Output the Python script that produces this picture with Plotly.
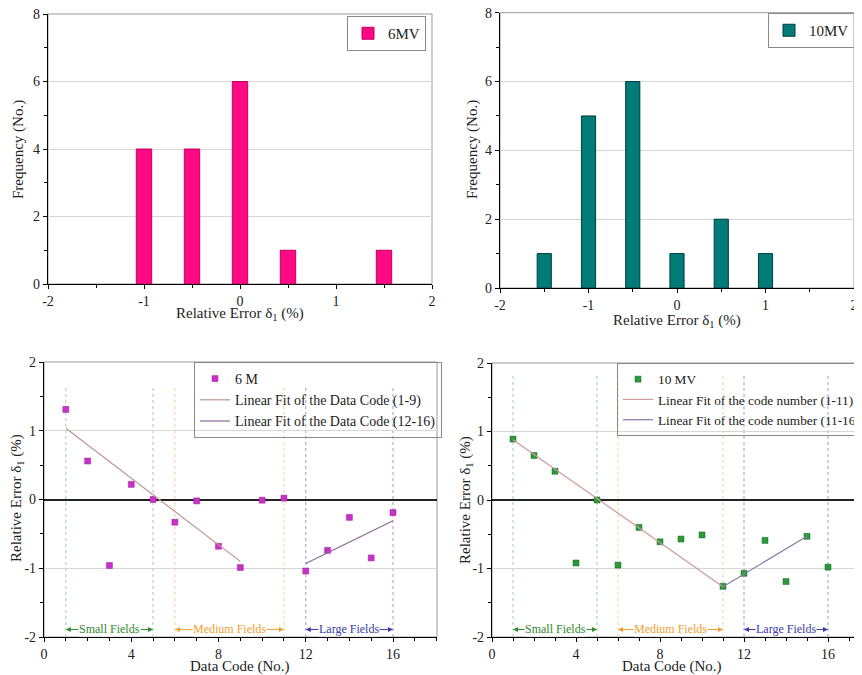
import plotly.graph_objects as go

# ---------------- data ----------------
hist_x_6mv = [-1.0, -0.5, 0.0, 0.5, 1.5]
hist_y_6mv = [4, 4, 6, 1, 1]
hist_x_10mv = [-1.5, -1.0, -0.5, 0.0, 0.5, 1.0]
hist_y_10mv = [1, 5, 6, 1, 2, 1]

code = list(range(1, 17))
err_6m = [1.31, 0.56, -0.96, 0.22, 0.0, -0.33, -0.02, -0.68, -0.99,
          -0.01, 0.02, -1.04, -0.74, -0.26, -0.85, -0.19]
err_10mv = [0.89, 0.65, 0.42, -0.92, 0.0, -0.95, -0.40, -0.61, -0.57,
            -0.51, -1.26, -1.07, -0.59, -1.19, -0.53, -0.98]

fit6_a_x, fit6_a_y = [1, 9], [1.035, -0.90]
fit6_b_x, fit6_b_y = [12, 16], [-0.93, -0.31]
fit10_a_x, fit10_a_y = [1, 11], [0.88, -1.265]
fit10_b_x, fit10_b_y = [11, 15], [-1.265, -0.53]

hist_xticks = [-2, -1, 0, 1, 2]
hist_xlabels = ["-2", "-1", "0", "1", "2"]
hist_yticks = [0, 2, 4, 6, 8]
code_xticks = [0, 4, 8, 12, 16]
err_yticks = [-2, -1, 0, 1, 2]
err_ylabels = ["-2", "-1", "0", "1", "2"]

field_names = ["Small Fields", "Medium Fields", "Large Fields"]
field_start = [1, 6, 12]
field_end = [5, 11, 16]
field_colors = ["#2e8b2e", "#f0a030", "#3a3aa8"]
field_line_colors = ["#a8c8a8", "#f3cf98", "#9c9cd6"]

FONT = "Liberation Serif"
# the page body has an 8px margin, so the figure is drawn 8px in from the corner
OFF = 8
W, H = 862 - OFF, 675 - OFF


def fx(px):
    return (px - OFF) / W


def fy(py):
    return 1 - (py - OFF) / H


fig = go.Figure()

# ---------------- histograms ----------------
fig.add_trace(go.Bar(x=hist_x_6mv, y=hist_y_6mv, width=0.16, name="6MV", showlegend=True,
                     marker=dict(color="#ff0a84", line=dict(color="#c0005a", width=1)),
                     xaxis="x", yaxis="y", legend="legend"))
fig.add_trace(go.Bar(x=hist_x_10mv, y=hist_y_10mv, width=0.16, name="10MV", showlegend=True,
                     marker=dict(color="#007b78", line=dict(color="#003c3a", width=1)),
                     xaxis="x2", yaxis="y2", legend="legend2"))

# ---------------- scatter + fits ----------------
fig.add_trace(go.Scatter(x=code, y=err_6m, mode="markers", name="6 M", showlegend=True,
                         marker=dict(symbol="square", size=6, color="#c832c8",
                                     line=dict(color="#9a209a", width=0.5)),
                         xaxis="x3", yaxis="y3", legend="legend3"))
fig.add_trace(go.Scatter(x=fit6_a_x, y=fit6_a_y, mode="lines", showlegend=True,
                         name="Linear Fit of the Data Code (1-9)",
                         line=dict(color="#c09494", width=1.2),
                         xaxis="x3", yaxis="y3", legend="legend3"))
fig.add_trace(go.Scatter(x=fit6_b_x, y=fit6_b_y, mode="lines", showlegend=True,
                         name="Linear Fit of the Data Code (12-16)",
                         line=dict(color="#8a6a98", width=1.2),
                         xaxis="x3", yaxis="y3", legend="legend3"))

fig.add_trace(go.Scatter(x=code, y=err_10mv, mode="markers", name="10 MV", showlegend=True,
                         marker=dict(symbol="square", size=6, color="#2a9a3a",
                                     line=dict(color="#1a6a2a", width=0.5)),
                         xaxis="x4", yaxis="y4", legend="legend4"))
fig.add_trace(go.Scatter(x=fit10_a_x, y=fit10_a_y, mode="lines", showlegend=True,
                         name="Linear Fit of the code number (1-11)",
                         line=dict(color="#d09898", width=1.2),
                         xaxis="x4", yaxis="y4", legend="legend4"))
fig.add_trace(go.Scatter(x=fit10_b_x, y=fit10_b_y, mode="lines", showlegend=True,
                         name="Linear Fit of the code number (11-16)",
                         line=dict(color="#8a78a8", width=1.2),
                         xaxis="x4", yaxis="y4", legend="legend4"))

tickfont = dict(family=FONT, size=14, color="#222")
titlefont = dict(family=FONT, size=15, color="#222")


def xaxis(domain, rng, tv, tt, minor, anchor):
    return dict(domain=domain, range=rng, tickmode="array", tickvals=tv, ticktext=tt,
                anchor=anchor, ticklabeloverflow="allow",
                showline=True, linecolor="black", linewidth=1.3,
                ticks="outside", ticklen=4, tickcolor="black",
                minor=dict(ticks="outside", tickmode="linear", tick0=0, dtick=minor,
                           ticklen=3, tickcolor="black"),
                showgrid=False, zeroline=False, tickfont=tickfont,
                automargin=False, fixedrange=True)


def yaxis(domain, rng, tv, tt, minor, anchor, zero=False):
    return dict(domain=domain, range=rng, tickmode="array", tickvals=tv, ticktext=tt,
                anchor=anchor, ticklabeloverflow="allow",
                showline=True, linecolor="black", linewidth=1.3,
                ticks="outside", ticklen=4, tickcolor="black",
                minor=dict(ticks="outside", tickmode="linear", tick0=0, dtick=minor,
                           ticklen=3, tickcolor="black", showgrid=False),
                showgrid=True, gridcolor="#d6d6d6", gridwidth=1,
                zeroline=zero, zerolinecolor="#222", zerolinewidth=1.5,
                tickfont=tickfont, automargin=False, fixedrange=True)


dom = {
    "x": [fx(48), fx(432)], "y": [fy(284), fy(14)],
    "x2": [fx(500), fx(854)], "y2": [fy(288), fy(12.7)],
    "x3": [fx(44), fx(437)], "y3": [fy(637), fy(362)],
    "x4": [fx(492), 1.0], "y4": [fy(637), fy(363)],
}
x4_max = (862 - 492) / ((828 - 492) / 16)
x3_max = (437 - 44) / ((393 - 44) / 16)

legend_common = dict(bgcolor="rgba(0,0,0,0)", bordercolor="#8a8a8a", borderwidth=1,
                     xanchor="left", yanchor="top", xref="paper", yref="paper",
                     tracegroupgap=0, itemclick=False, itemdoubleclick=False,
                     itemwidth=30)

hist_ylabels = [str(v) for v in hist_yticks]
code_xlabels = [str(v) for v in code_xticks]

fig.update_layout(
    width=W, height=H, showlegend=True,
    margin=dict(l=0, r=0, t=0, b=0, autoexpand=False),
    paper_bgcolor="white", plot_bgcolor="white",
    font=dict(family=FONT, size=14, color="#222"),
    barmode="overlay",
    xaxis=xaxis(dom["x"], [-2, 2], hist_xticks, hist_xlabels, 0.5, "y"),
    yaxis=yaxis(dom["y"], [0, 8], hist_yticks, hist_ylabels, 1, "x"),
    xaxis2=xaxis(dom["x2"], [-2, 2], hist_xticks, hist_xlabels, 0.5, "y2"),
    yaxis2=yaxis(dom["y2"], [0, 8], hist_yticks, hist_ylabels, 1, "x2"),
    xaxis3=xaxis(dom["x3"], [0, x3_max], code_xticks, code_xlabels, 1, "y3"),
    yaxis3=yaxis(dom["y3"], [-2, 2], err_yticks, err_ylabels, 0.5, "x3", zero=True),
    xaxis4=xaxis(dom["x4"], [0, x4_max], code_xticks, code_xlabels, 1, "y4"),
    yaxis4=yaxis(dom["y4"], [-2, 2], err_yticks, err_ylabels, 0.5, "x4", zero=True),
    legend=dict(x=fx(347), y=fy(16), font=dict(family=FONT, size=15), **legend_common),
    legend2=dict(x=fx(768), y=fy(13), font=dict(family=FONT, size=15), **legend_common),
    legend3=dict(x=fx(194), y=fy(362), font=dict(family=FONT, size=14), **legend_common),
    legend4=dict(x=fx(617), y=fy(363), font=dict(family=FONT, size=13.3), **legend_common),
)

shapes = []
annotations = []
# grey frame (top/right borders)
for xs, ys in [("x", "y"), ("x2", "y2"), ("x3", "y3"), ("x4", "y4")]:
    shapes.append(dict(type="rect", xref=xs + " domain", yref=ys + " domain",
                       x0=0, x1=1, y0=0, y1=1, line=dict(color="#9a9a9a", width=1),
                       layer="below"))


# axis titles placed as text at pixel-matched paper positions
def ptitle(px, py, text, angle=0):
    annotations.append(dict(x=fx(px), y=fy(py), xref="paper", yref="paper",
                            text=text, showarrow=False, textangle=angle,
                            xanchor="center", yanchor="middle", font=titlefont))


delta = "Relative Error δ<sub>1</sub> (%)"
ptitle(240, 314, delta)
ptitle(18, 150, "Frequency (No.)", -90)
ptitle(677, 321, delta)
ptitle(472, 150, "Frequency (No.)", -90)
ptitle(240, 666, "Data Code (No.)")
ptitle(17, 498, delta, -90)
ptitle(672, 666, "Data Code (No.)")
ptitle(466, 500, delta, -90)

# field boundaries and arrows for the lower plots
for xs, ys, top in [("x3", "y3", 1.66), ("x4", "y4", 1.85)]:
    for name, s, e, c, lc in zip(field_names, field_start, field_end,
                                 field_colors, field_line_colors):
        for xv in (s, e):
            shapes.append(dict(type="line", xref=xs, yref=ys, x0=xv, x1=xv, y0=-2, y1=top,
                               line=dict(color=lc, width=1, dash="dot"), layer="below"))
        mid = (s + e) / 2
        for end in (s, e):
            annotations.append(dict(x=end, y=-1.89, xref=xs, yref=ys, ax=mid, ay=-1.89,
                                    axref=xs, ayref=ys, text="", showarrow=True,
                                    arrowhead=2, arrowsize=1, arrowwidth=1, arrowcolor=c,
                                    standoff=0))
        annotations.append(dict(x=mid, y=-1.89, xref=xs, yref=ys, text=name,
                                showarrow=False, bgcolor="white", borderpad=0,
                                font=dict(family=FONT, size=12, color=c)))

fig.update_layout(shapes=shapes, annotations=annotations)

fig.write_html("out.html")
